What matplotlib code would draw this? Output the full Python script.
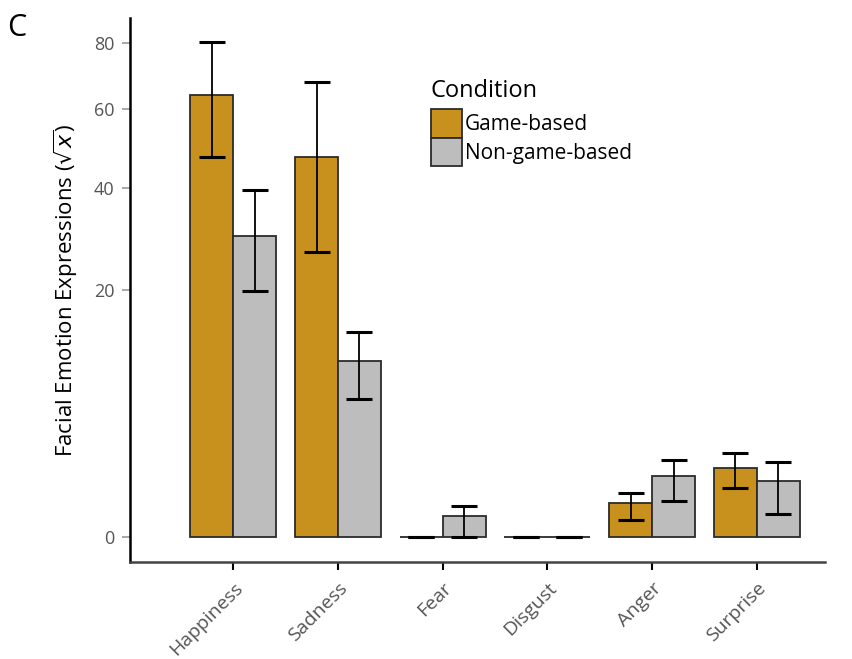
import numpy as np
import matplotlib.pyplot as plt
from matplotlib.patches import Patch

plt.rcParams['font.family'] = ['Open Sans', 'DejaVu Sans']

categories = ['Happiness', 'Sadness', 'Fear', 'Disgust', 'Anger', 'Surprise']
game = [64.0, 47.4, 0.0, 0.0, 0.375, 1.55]
game_lo = [47.4, 26.7, 0.0, 0.0, 0.095, 0.78]
game_hi = [80.4, 67.9, 0.0, 0.0, 0.635, 2.32]
nongame = [29.7, 10.2, 0.15, 0.0, 1.22, 1.03]
nongame_lo = [19.9, 6.25, 0.0, 0.0, 0.425, 0.17]
nongame_hi = [39.5, 13.8, 0.315, 0.0, 1.96, 1.86]
yticks = [0, 20, 40, 60, 80]

gold = '#C8901C'
grey = '#BDBDBD'


def fwd(y):
    y = np.asarray(y, dtype=float)
    return np.sign(y) * np.sqrt(np.abs(y))


def inv(y):
    y = np.asarray(y, dtype=float)
    return np.sign(y) * y ** 2


fig = plt.figure(figsize=(8.53, 6.59), dpi=100)
ax = fig.add_axes([0.152, 0.147, 0.815, 0.826])
ax.set_yscale('function', functions=(fwd, inv))

x = np.arange(len(categories))
w = 0.41
for off, vals, lo, hi, col in [(-w / 2, game, game_lo, game_hi, gold),
                                (w / 2, nongame, nongame_lo, nongame_hi, grey)]:
    vals = np.array(vals)
    ax.bar(x + off, vals, width=w, color=col, edgecolor='#2b2b2b', linewidth=1.3, zorder=2)
    yerr = [vals - np.array(lo), np.array(hi) - vals]
    ax.errorbar(x + off, vals, yerr=yerr, fmt='none', ecolor='black',
                elinewidth=1.3, capsize=9.5, capthick=2.2, zorder=3)

ax.set_xlim(-0.99, 5.65)
ax.set_ylim(-0.205, 88.4)
ax.set_yticks(yticks)
ax.set_yticklabels([str(t) for t in yticks], fontsize=13, color='#555555')
ax.set_xticks(x)
ax.set_xticklabels(categories, rotation=45, ha='right', rotation_mode='anchor',
                   fontsize=14, color='#555555')
ax.tick_params(axis='y', length=6, color='#999999', width=1.2, pad=5)
ax.tick_params(axis='x', length=6, color='black', width=1.5, pad=6)
ax.spines['top'].set_visible(False)
ax.spines['right'].set_visible(False)
ax.spines['left'].set_linewidth(1.8)
ax.spines['bottom'].set_linewidth(1.8)
ax.spines['bottom'].set_color('#444444')

ax.set_ylabel(r'Facial Emotion Expressions ($\sqrt{x}$)', fontsize=16, labelpad=10)

handles = [Patch(facecolor=gold, edgecolor='#2b2b2b', linewidth=1.3, label='Game-based'),
           Patch(facecolor=grey, edgecolor='#2b2b2b', linewidth=1.3, label='Non-game-based')]
leg = ax.legend(handles=handles, title='Condition', loc='upper left',
                bbox_to_anchor=(0.412, 0.914), frameon=False, fontsize=15,
                title_fontsize=17, handlelength=1.5, handleheight=1.75,
                handletextpad=0.15, labelspacing=0.0, borderpad=0.2)
leg._legend_box.align = 'left'
leg._legend_box.sep = 4

fig.text(0.008, 0.945, 'C', fontsize=22)

fig.savefig('out.png', dpi=100)
